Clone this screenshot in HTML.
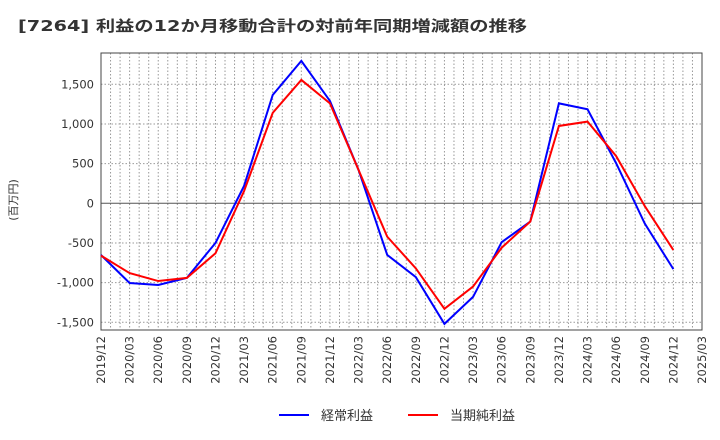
<!DOCTYPE html>
<html><head><meta charset="utf-8"><style>
body{margin:0;background:#fff;}
svg{display:block;font-family:"DejaVu Sans","Noto Sans CJK JP",sans-serif;}
</style></head><body>
<svg id="c" width="720" height="440">
<text x="18" y="31" font-size="15" font-weight="bold" fill="#333" textLength="509" lengthAdjust="spacingAndGlyphs">[7264]  利益の12か月移動合計の対前年同期増減額の推移</text>
<text transform="translate(17,200) rotate(-90)" font-size="11" fill="#333" text-anchor="middle">(百万円)</text>
<g id="grid"></g><g id="axes"></g><g id="series"></g>
<g>
<line x1="279" y1="415" x2="309" y2="415" stroke="#0000ff" stroke-width="2"/>
<text x="321" y="420" font-size="13" fill="#333">経常利益</text>
<line x1="408" y1="415" x2="438" y2="415" stroke="#ff0000" stroke-width="2"/>
<text x="450" y="420" font-size="13" fill="#333">当期純利益</text>
</g>
</svg>
<script>
const categories=["2019/12","2020/03","2020/06","2020/09","2020/12","2021/03","2021/06","2021/09","2021/12","2022/03","2022/06","2022/09","2022/12","2023/03","2023/06","2023/09","2023/12","2024/03","2024/06","2024/09","2024/12"];
const tickLabels=["2019/12","2020/03","2020/06","2020/09","2020/12","2021/03","2021/06","2021/09","2021/12","2022/03","2022/06","2022/09","2022/12","2023/03","2023/06","2023/09","2023/12","2024/03","2024/06","2024/09","2024/12","2025/03"];
const keijo=[-652,-1005,-1030,-940,-500,220,1365,1795,1290,420,-650,-930,-1520,-1180,-490,-230,1260,1185,505,-255,-830];
const junri=[-660,-880,-980,-940,-630,155,1140,1555,1260,420,-420,-820,-1330,-1050,-560,-230,975,1030,595,-35,-590];
const yTicks=[-1500,-1000,-500,0,500,1000,1500];
const yTickLabels=["-1,500","-1,000","-500","0","500","1,000","1,500"];
const NS="http://www.w3.org/2000/svg";
const L=101,R=702,T=53,B=330;
const nQ=tickLabels.length-1;
const x=i=>L+(R-L)*i/nQ;
const y=v=>203.3-v*119/1500;
function mk(p,tag,a){const e=document.createElementNS(NS,tag);for(const k in a)e.setAttribute(k,a[k]);p.appendChild(e);return e;}
const grid=document.getElementById('grid'),axes=document.getElementById('axes'),ser=document.getElementById('series');
for(let m=1;m<nQ*3;m++){const xx=L+(R-L)*m/(nQ*3);
const g=mk(grid,'line',{x1:xx,x2:xx,y1:T,y2:B,stroke:'#999','stroke-dasharray':'1.5,2','stroke-width':1});

}
yTicks.forEach((v,i)=>{
if(v!==0){const g=mk(grid,'line',{x1:L,x2:R,y1:y(v),y2:y(v),stroke:'#999','stroke-dasharray':'1.5,2','stroke-width':1});

}
else{const z=mk(grid,'line',{x1:L,x2:R,y1:y(0),y2:y(0),stroke:'#555','stroke-width':1});

}
const t=mk(axes,'text',{x:L-7,y:y(v)+4,'font-size':11.5,fill:'#333','text-anchor':'end'});t.textContent=yTickLabels[i];


});
tickLabels.forEach((s,i)=>{const t=mk(axes,'text',{transform:`translate(${x(i)+4},${B+6}) rotate(-90)`,'font-size':11.5,fill:'#333','text-anchor':'end'});t.textContent=s;

});
const box=mk(axes,'rect',{x:L,y:T,width:R-L,height:B-T,fill:'none',stroke:'#444','stroke-width':1});


[[keijo,'#0000ff','series-keijo-line'],[junri,'#ff0000','series-junri-line']].forEach(([d,c,n])=>{
const p=mk(ser,'polyline',{points:d.map((v,i)=>x(i)+','+y(v)).join(' '),fill:'none',stroke:c,'stroke-width':2,'stroke-linejoin':'miter'});

});
</script>
</body></html>
